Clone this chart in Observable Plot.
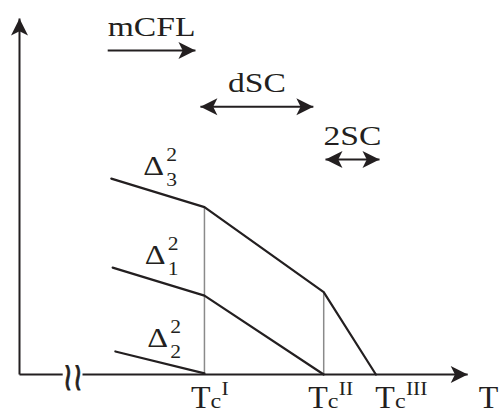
<!DOCTYPE html>
<html><head><meta charset="utf-8">
<script src="https://cdn.jsdelivr.net/npm/d3@7"></script>
<script src="https://cdn.jsdelivr.net/npm/@observablehq/plot@0.6"></script>
<style>body{margin:0;background:#fff}</style>
</head><body><div id="chart"></div>
<script>
// ---- data (arbitrary units: T on x, gap squared on y) ----
const tcNames = ["I", "II", "III"];
const tcValues = [41.1, 67.6, 79.2];

const delta3T = [20.4, 41.1, 67.6, 79.2];
const delta3V = [54.4, 46.5, 22.9, 0];
const delta1T = [20.7, 41.1, 67.6];
const delta1V = [29.7, 21.9, 0];
const delta2T = [21.3, 41.1];
const delta2V = [6.4, 0.3];
const gapIndex = ["3", "1", "2"];

const phaseNames = ["mCFL", "dSC", "2SC"];
const phaseFrom = [19.6, 40.2, 68.0];
const phaseTo = [39.1, 65.3, 80.0];
const phaseLevel = [90.0, 74.4, 59.7];
const phaseTwoWay = [false, true, true];

const axisMaxT = 99.6, axisMaxV = 98.9;
const axisBreak = [9.6, 14.0];

// ---- build ----
const ink = "#231f20";
const serif = "Liberation Serif";
const curves = [
  {T: delta3T, V: delta3V},
  {T: delta1T, V: delta1V},
  {T: delta2T, V: delta2V}
].map((c, k) => ({id: gapIndex[k], pts: c.T.map((t, i) => ({t, v: c.V[i], id: gapIndex[k]}))}));

// filled arrowhead with a shallow notch; tip at the origin, pointing +x
const arrowHead = {
  draw(ctx, size) {
    const r = Math.sqrt(size / Math.PI);
    ctx.moveTo(0, 0);
    ctx.lineTo(-2 * r, -r);
    ctx.lineTo(-1.5 * r, 0);
    ctx.lineTo(-2 * r, r);
    ctx.closePath();
  }
};

const shafts = [
  {x1: 0, y1: 0, x2: 0, y2: axisMaxV},
  {x1: 0, y1: 0, x2: axisBreak[0], y2: 0},
  {x1: axisBreak[1], y1: 0, x2: axisMaxT, y2: 0}
];
const headsUp = [{x: 0, y: axisMaxV}];
const headsRightAxis = [{x: axisMaxT, y: 0}];
const headsRight = [];
const headsLeft = [];
const phases = phaseNames.map((name, i) => ({
  name, from: phaseFrom[i], to: phaseTo[i], v: phaseLevel[i], mid: (phaseFrom[i] + phaseTo[i]) / 2
}));
phases.forEach((p, i) => {
  shafts.push({x1: p.from, y1: p.v, x2: p.to, y2: p.v});
  headsRight.push({x: p.to, y: p.v});
  if (phaseTwoWay[i]) headsLeft.push({x: p.from, y: p.v});
});

const starts = curves.map(c => ({...c.pts[0]}));
const headStyle = {x: "x", y: "y", symbol: arrowHead, fill: ink, stroke: "none"};

const marks = [
  // thin verticals at Tc^I and Tc^II up to the upper curve
  Plot.ruleX(tcValues.slice(0, 2), {y1: 0, y2: (d, i) => delta3V[i + 1], stroke: "#8a8a8a", strokeWidth: 1.5}),
  // axes and arrows
  Plot.link(shafts, {x1: "x1", y1: "y1", x2: "x2", y2: "y2", stroke: ink, strokeWidth: 2}),
  Plot.dot(headsUp, {...headStyle, r: 8.5, rotate: -90}),
  Plot.dot(headsRightAxis, {...headStyle, r: 8.5, rotate: 0}),
  Plot.dot(headsRight, {...headStyle, r: 8.5, rotate: 0}),
  Plot.dot(headsLeft, {...headStyle, r: 8.5, rotate: 180}),
  // gap curves
  ...curves.map(c => Plot.line(c.pts, {x: "t", y: "v", stroke: ink, strokeWidth: 2.2})),
  // axis break
  Plot.text(["≀≀"], {x: (axisBreak[0] + axisBreak[1]) / 2, y: 0, text: d => d, fontFamily: "DejaVu Serif",
    fontSize: 26, fill: ink, stroke: ink, strokeWidth: 0.7, textAnchor: "middle", lineAnchor: "middle", dy: 3}),
  // phase labels
  Plot.text(phases, {x: "mid", y: "v", text: "name", fontFamily: serif, fontSize: 28, fill: ink,
    textAnchor: "middle", lineAnchor: "bottom", dy: -15}),
  // gap labels Δ_i^2
  Plot.text(starts, {x: "t", y: "v", text: () => "Δ", fontFamily: serif, fontSize: 27, fill: ink,
    textAnchor: "start", lineAnchor: "bottom", dx: 32, dy: -4}),
  Plot.text(starts, {x: "t", y: "v", text: () => "2", fontFamily: serif, fontSize: 18, fill: ink,
    textAnchor: "start", lineAnchor: "bottom", dx: 55, dy: -18}),
  Plot.text(starts, {x: "t", y: "v", text: "id", fontFamily: serif, fontSize: 18, fill: ink,
    textAnchor: "start", lineAnchor: "bottom", dx: 55, dy: 7}),
  // axis label T
  Plot.text(["T"], {x: axisMaxT, y: 0, text: d => d, fontFamily: serif, fontSize: 32, fill: ink,
    textAnchor: "start", lineAnchor: "bottom", dx: 11, dy: 33})
];

// critical temperature labels Tc^I, Tc^II, Tc^III
const tcShift = {I: 6, II: 4, III: 19};
tcNames.forEach((n, i) => {
  const d = [{t: tcValues[i], n}];
  const s = tcShift[n];
  marks.push(
    Plot.text(d, {x: "t", y: () => 0, text: () => "T", fontFamily: serif, fontSize: 32, fill: ink,
      textAnchor: "end", lineAnchor: "bottom", dx: s, dy: 33}),
    Plot.text(d, {x: "t", y: () => 0, text: () => "c", fontFamily: serif, fontSize: 20, fill: ink,
      textAnchor: "start", lineAnchor: "bottom", dx: s, dy: 33}),
    Plot.text(d, {x: "t", y: () => 0, text: "n", fontFamily: serif, fontSize: 18, fill: ink,
      textAnchor: "start", lineAnchor: "bottom", dx: s + 11, dy: 20})
  );
});

const chart = Plot.plot({
  width: 499,
  height: 414,
  marginLeft: 19,
  marginRight: 30,
  marginTop: 14,
  marginBottom: 40,
  x: {domain: [0, 100], axis: null},
  y: {domain: [0, 100], axis: null},
  style: {background: "#fff", overflow: "visible"},
  marks
});

// horizontal stretch of the glyphs (the source figure is wider than tall)
d3.select(chart).selectAll("text").each(function() {
  const t = this.getAttribute("transform") || "";
  const txt = this.textContent;
  let s = " scale(1.2,1)";
  if (txt === "≀≀") s = " scale(1,1.5)";
  else if (txt === "T" && this.getAttribute("text-anchor") === null) s = "";
  this.setAttribute("transform", (t + s).trim());
});

document.getElementById("chart").appendChild(chart);
</script>
</body></html>
